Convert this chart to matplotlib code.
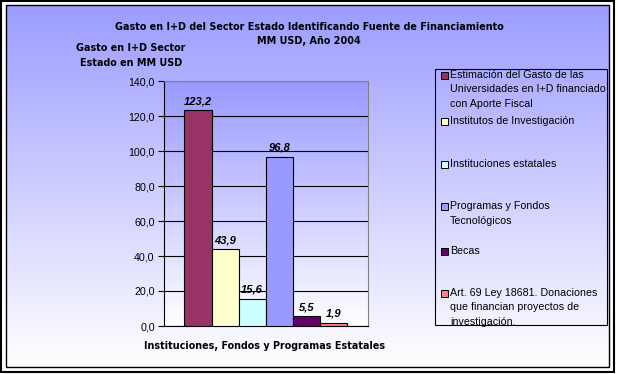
import numpy as np
import matplotlib
matplotlib.use("Agg")
import matplotlib.pyplot as plt
from matplotlib.patches import Rectangle
from matplotlib.colors import LinearSegmentedColormap

# ---- data ----
series_labels = [
    "Estimación del Gasto de las\nUniversidades en I+D financiado\ncon Aporte Fiscal",
    "Institutos de Investigación",
    "Instituciones estatales",
    "Programas y Fondos\nTecnológicos",
    "Becas",
    "Art. 69 Ley 18681. Donaciones\nque financian proyectos de\ninvestigación.",
]
values = [123.2, 43.9, 15.6, 96.8, 5.5, 1.9]
colors = ["#993366", "#ffffcc", "#ccffff", "#9999ff", "#660066", "#ff8080"]
yticks = [0, 20, 40, 60, 80, 100, 120, 140]
title = "Gasto en I+D del Sector Estado Identificando Fuente de Financiamiento\nMM USD, Año 2004"
ylabel = "Gasto en I+D Sector\nEstado en MM USD"
xlabel = "Instituciones, Fondos y Programas Estatales"

W, H = 618, 374
fig = plt.figure(figsize=(W / 100, H / 100), dpi=100)
fig.patch.set_facecolor("white")

def fx(px):
    return px / W

def fy(py):
    return 1 - py / H

# chart-area gradient background
bg = fig.add_axes([fx(6), fy(367), fx(609 - 6), (367 - 5) / H], zorder=0)
cm_bg = LinearSegmentedColormap.from_list("bg", ["#9c9cff", "#ffffff"])
grad = np.linspace(0, 1, 256).reshape(-1, 1)
bg.imshow(grad, aspect="auto", cmap=cm_bg, extent=[0, 1, 0, 1], origin="upper")
bg.set_xlim(0, 1)
bg.set_ylim(0, 1)
bg.axis("off")

# frames
fig.patches.append(Rectangle((fx(1), fy(372)), fx(614 - 1), (372 - 1) / H, transform=fig.transFigure,
                             fill=False, edgecolor="black", linewidth=1.5, zorder=5))
fig.patches.append(Rectangle((fx(6), fy(367)), fx(609 - 6), (367 - 5) / H, transform=fig.transFigure,
                             fill=False, edgecolor="black", linewidth=1.0, zorder=5))

# main plot axes
left, right, top, bottom = 164.5, 367.5, 81, 326
ax = fig.add_axes([fx(left), fy(bottom), fx(right - left), (bottom - top) / H], zorder=2)
ax.patch.set_alpha(0)

bar_w_px = 27.07
xmax = (right - left) / bar_w_px
x0 = 20 / bar_w_px
cm_pa = LinearSegmentedColormap.from_list("pa", ["#9999ff", "#ffffff"])
ax.imshow(grad, aspect="auto", cmap=cm_pa, extent=[0, xmax, 0, 140], origin="upper", zorder=0)

xs = [x0 + i for i in range(len(values))]
bars = ax.bar(xs, values, width=1.0, align="edge", color=colors, edgecolor="black", linewidth=0.8, zorder=3)
for x, v in zip(xs, values):
    ax.text(x + 0.5, v + 5.0, f"{v:.1f}".replace(".", ","), ha="center", va="center",
            fontsize=8.0, fontweight="bold", fontstyle="italic", family="Liberation Sans", zorder=4)

ax.set_xlim(0, xmax)
ax.set_ylim(0, 140)
ax.set_yticks(yticks)
ax.set_yticklabels([f"{t:.1f}".replace(".", ",") for t in yticks], family="Liberation Sans", fontsize=7.7)
ax.set_xticks([])
ax.yaxis.grid(True, color="black", linewidth=0.8, zorder=1)
ax.set_axisbelow(True)
ax.tick_params(axis="y", direction="out", length=4, width=0.8, pad=3)
for s in ["top", "right"]:
    ax.spines[s].set_color("#808080")
    ax.spines[s].set_linewidth(0.8)
for s in ["left", "bottom"]:
    ax.spines[s].set_color("black")
    ax.spines[s].set_linewidth(0.8)

# titles
tlines = title.split("\n")
fig.text(fx(309), fy(27), tlines[0], ha="center", va="center", fontsize=6.9, fontweight="bold")
fig.text(fx(309), fy(41), tlines[1], ha="center", va="center", fontsize=6.9, fontweight="bold")
ylines = ylabel.split("\n")
fig.text(fx(131), fy(48), ylines[0], ha="center", va="center", fontsize=6.9, fontweight="bold")
fig.text(fx(131), fy(63), ylines[1], ha="center", va="center", fontsize=6.9, fontweight="bold")
fig.text(fx(265), fy(346), xlabel, ha="center", va="center", fontsize=6.9, fontweight="bold")

# legend
fig.patches.append(Rectangle((fx(435), fy(325)), fx(607 - 435), (325 - 69) / H, transform=fig.transFigure,
                             fill=False, edgecolor="black", linewidth=0.8, zorder=5))
entry_y = [75, 121, 164, 206, 251, 293]
line_h = 14.5
for lab, c, y in zip(series_labels, colors, entry_y):
    fig.patches.append(Rectangle((fx(441), fy(y + 3.5)), fx(7), 7 / H, transform=fig.transFigure,
                                 facecolor=c, edgecolor="black", linewidth=0.7, zorder=5))
    for k, line in enumerate(lab.split("\n")):
        fig.text(fx(450), fy(y + k * line_h), line, ha="left", va="center", fontsize=7.7,
                 family="Liberation Sans", zorder=6)

fig.savefig("out.png", dpi=100)
